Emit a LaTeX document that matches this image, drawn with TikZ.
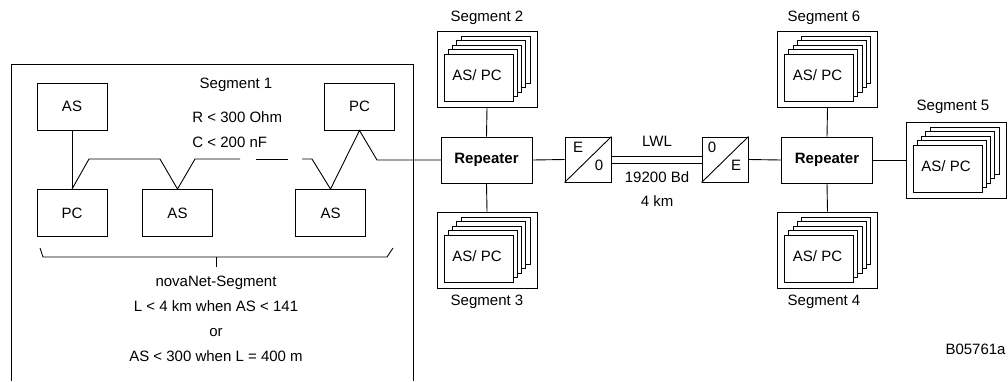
\documentclass[tikz,border=0pt]{standalone}
\usepackage{fontspec}
\setmainfont{Liberation Sans}
\usetikzlibrary{calc}
\begin{document}
\begin{tikzpicture}[x=1pt,y=-1pt,line width=0.9pt,
  every node/.style={font=\fontsize{15}{18}\selectfont},
  dev/.style={draw,fill=white,minimum width=70pt,minimum height=47pt,inner sep=0pt},
  rep/.style={draw,minimum width=91pt,minimum height=46pt,inner sep=0pt,font=\fontsize{15}{18}\selectfont\bfseries},
  conv/.style={draw,minimum width=46pt,minimum height=45pt,inner sep=0pt},
  outer/.style={draw,minimum width=100pt,minimum height=76pt,inner sep=0pt},
  lbl/.style={anchor=mid,inner sep=0pt},
  cards/.pic={
    \foreach \i in {4,3,2,1,0} {
      \draw[fill=white] (-43+4.3*\i,-15-4.5*\i) rectangle ++(69,47);
    }
    \node[lbl] at (-10,9) {AS/ PC};
  }]
\useasboundingbox (0,0) rectangle (1008,381);
% Segment 1 frame
\draw (11,381) -- (11,64) -- (413,64) -- (413,381);
\node[dev] (as1) at (72,106.5) {AS};
\node[dev] (pc2) at (359.5,106.5) {PC};
\node[dev] (pc1) at (72,213) {PC};
\node[dev] (as2) at (177.5,213) {AS};
\node[dev] (as3) at (330.5,213) {AS};
\node[lbl] (s1) at (236,86) {Segment 1};
\node[lbl,anchor=west] (rr) at (192,117) {R < 300 Ohm};
\node[lbl,anchor=west] (cc) at (192,142) {C < 200 nF};
% bus
\draw (as1.south) -- (pc1.north);
\draw (pc1.north) -- (89,159) -- (160,159) -- (as2.north) -- (195,159) -- (240,159);
\draw (256,159) -- (288,159);
\draw (302,159) -- (312,159) -- (as3.north) -- (pc2.south) -- (377,160) -- (441,160);
% brace
\draw (40,248) -- (43,257) -- (387,257) -- (393,248);
\draw (216,257) -- (216,267);
\node[lbl] (n1) at (216,284) {novaNet-Segment};
\node[lbl] (n2) at (216,309) {L < 4 km when AS < 141};
\node[lbl] (n3) at (216,334) {or};
\node[lbl] (n4) at (216,359) {AS < 300 when L = 400 m};
% repeaters
\node[rep] (rep1) at (486.5,160) {Repeater};
\node[rep] (rep2) at (827,160) {Repeater};
% segments 2..6
\node[outer] (sg2) at (487,69) {};
\pic at (sg2) {cards};
\node[lbl] at (487,19) {Segment 2};
\node[outer] (sg3) at (487,250) {};
\pic at (sg3) {cards};
\node[lbl] at (487,303) {Segment 3};
\node[outer] (sg6) at (827.5,69) {};
\pic at (sg6) {cards};
\node[lbl] at (824,19) {Segment 6};
\node[outer] (sg4) at (827.5,250) {};
\pic at (sg4) {cards};
\node[lbl] at (824,303) {Segment 4};
\node[outer] (sg5) at (956,160) {};
\pic at (sg5) {cards};
\node[lbl] at (953,108) {Segment 5};
\draw (sg2.south) -- (rep1.north);
\draw (sg3.north) -- (rep1.south);
\draw (sg6.south) -- (rep2.north);
\draw (sg4.north) -- (rep2.south);
\draw (rep2.east) -- (sg5.west);
% converters
\node[conv] (eo) at (588,159.5) {};
\draw (eo.south west) -- (eo.north east);
\node[lbl] at (578,150) {E};
\node[lbl] at (599,168) {0};
\node[conv] (oe) at (725,159.5) {};
\draw (oe.south west) -- (oe.north east);
\node[lbl] at (712,150) {0};
\node[lbl] at (736,168) {E};
\draw (rep1.east) -- (eo.west);
\draw (oe.east) -- (rep2.west);
\draw ($(eo.east)+(0,-3.5)$) -- ($(oe.west)+(0,-3.5)$);
\draw ($(eo.east)+(0,3.5)$) -- ($(oe.west)+(0,3.5)$);
\node[lbl] at (657,144) {LWL};
\node[lbl] at (657,180) {19200 Bd};
\node[lbl] at (657,204) {4 km};
\node[lbl,anchor=east] at (1006,349) {B05761a};
\end{tikzpicture}
\end{document}
